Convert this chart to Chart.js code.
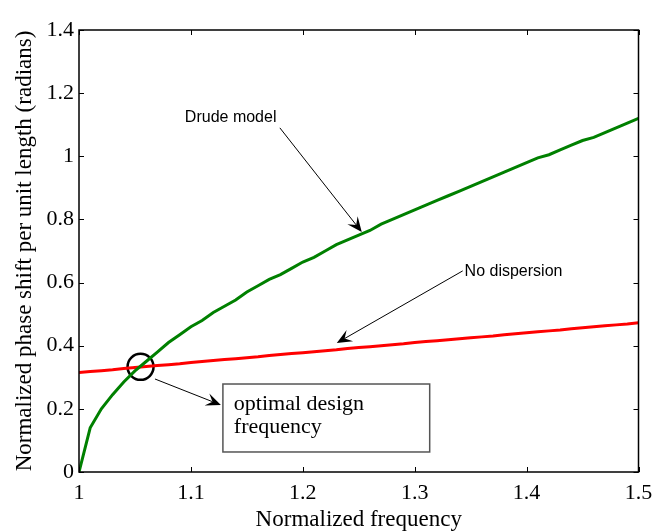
<!DOCTYPE html>
<html>
<head>
<meta charset="utf-8">
<script src="https://cdn.jsdelivr.net/npm/chart.js@4"></script>
<style>
  html, body { margin: 0; padding: 0; background: #fff; }
  #wrap { width: 654px; height: 531px; }
</style>
</head>
<body>
<div id="wrap"><canvas id="phaseChart" width="654" height="531"></canvas></div>
<script>
// normalized frequency samples
const freq = [1.00, 1.01, 1.02, 1.03, 1.04, 1.05, 1.06, 1.07, 1.08, 1.09,
  1.10, 1.11, 1.12, 1.13, 1.14, 1.15, 1.16, 1.17, 1.18, 1.19,
  1.20, 1.21, 1.22, 1.23, 1.24, 1.25, 1.26, 1.27, 1.28, 1.29,
  1.30, 1.31, 1.32, 1.33, 1.34, 1.35, 1.36, 1.37, 1.38, 1.39,
  1.40, 1.41, 1.42, 1.43, 1.44, 1.45, 1.46, 1.47, 1.48, 1.49, 1.50];

const drude = [0, 0.14, 0.20, 0.245, 0.285, 0.32, 0.35, 0.38, 0.41, 0.435,
  0.46, 0.48, 0.505, 0.525, 0.545, 0.57, 0.59, 0.61, 0.625, 0.645,
  0.665, 0.68, 0.70, 0.72, 0.735, 0.75, 0.765, 0.785, 0.80, 0.815,
  0.83, 0.845, 0.86, 0.875, 0.89, 0.905, 0.92, 0.935, 0.95, 0.965,
  0.98, 0.995, 1.005, 1.02, 1.035, 1.05, 1.06, 1.075, 1.09, 1.105, 1.12];

const noDispersion = [0.315, 0.318, 0.321, 0.324, 0.328, 0.331, 0.334, 0.337, 0.340, 0.343,
  0.347, 0.350, 0.353, 0.356, 0.359, 0.362, 0.365, 0.369, 0.372, 0.375,
  0.378, 0.381, 0.384, 0.387, 0.391, 0.394, 0.397, 0.400, 0.403, 0.406,
  0.410, 0.413, 0.416, 0.419, 0.422, 0.425, 0.428, 0.431, 0.435, 0.438,
  0.441, 0.444, 0.447, 0.450, 0.454, 0.457, 0.460, 0.463, 0.466, 0.469, 0.473];

// crossing point marked with a circle
const optimalPoint = [{ x: 1.055, y: 0.333 }];

const xTicks = [1, 1.1, 1.2, 1.3, 1.4, 1.5];
const yTicks = [0, 0.2, 0.4, 0.6, 0.8, 1, 1.2, 1.4];

const SERIF = '"Liberation Serif", "Times New Roman", serif';
const SANS = '"Liberation Sans", Arial, sans-serif';

function toPoints(xs, ys) {
  return xs.map((x, i) => ({ x: x, y: ys[i] }));
}

function fmt(v) {
  return String(Math.round(v * 100) / 100);
}

function arrow(ctx, x1, y1, x2, y2) {
  const ang = Math.atan2(y2 - y1, x2 - x1);
  const len = 15, half = 6.5, notch = 9;
  const c = Math.cos(ang), s = Math.sin(ang);
  ctx.beginPath();
  ctx.moveTo(x1, y1);
  ctx.lineTo(x2 - c * notch, y2 - s * notch);
  ctx.stroke();
  ctx.beginPath();
  ctx.moveTo(x2, y2);
  ctx.lineTo(x2 - c * len - s * half, y2 - s * len + c * half);
  ctx.lineTo(x2 - c * notch, y2 - s * notch);
  ctx.lineTo(x2 - c * len + s * half, y2 - s * len - c * half);
  ctx.closePath();
  ctx.fill();
}

const framePlugin = {
  id: 'frame',
  afterDatasetsDraw(chart) {
    const { ctx, chartArea: a, scales } = chart;
    const sx = scales.x, sy = scales.y;
    const px = v => sx.getPixelForValue(v);
    const py = v => sy.getPixelForValue(v);
    ctx.save();

    // box and inward ticks
    ctx.strokeStyle = '#000';
    ctx.lineWidth = 1.5;
    ctx.strokeRect(a.left, a.top, a.right - a.left, a.bottom - a.top);
    ctx.lineWidth = 1;
    ctx.beginPath();
    xTicks.forEach(v => {
      const x = Math.round(px(v)) + 0.5;
      ctx.moveTo(x, a.bottom); ctx.lineTo(x, a.bottom - 5);
      ctx.moveTo(x, a.top); ctx.lineTo(x, a.top + 5);
    });
    yTicks.forEach(v => {
      const y = Math.round(py(v)) + 0.5;
      ctx.moveTo(a.left, y); ctx.lineTo(a.left + 5, y);
      ctx.moveTo(a.right, y); ctx.lineTo(a.right - 5, y);
    });
    ctx.stroke();

    // annotations
    ctx.fillStyle = '#000';
    ctx.strokeStyle = '#000';
    ctx.lineWidth = 1;
    ctx.font = '16px ' + SANS;
    ctx.textBaseline = 'middle';
    ctx.fillText('Drude model', px(1.0946), py(1.121));
    ctx.fillText('No dispersion', px(1.3446), py(0.6335));
    arrow(ctx, px(1.1795), py(1.090), px(1.2527), py(0.760));
    arrow(ctx, px(1.3429), py(0.637), px(1.2304), py(0.4086));
    arrow(ctx, px(1.0679), py(0.2946), px(1.1268), py(0.2122));

    // text box
    const bx = px(1.1286), by = py(0.2787);
    const bw = px(1.3134) - bx, bh = py(0.0634) - by;
    ctx.strokeStyle = '#555';
    ctx.lineWidth = 1.5;
    ctx.strokeRect(bx, by, bw, bh);
    ctx.font = '22px ' + SERIF;
    ctx.textBaseline = 'alphabetic';
    ctx.fillText('optimal design', px(1.1384), py(0.196));
    ctx.fillText('frequency', px(1.1384), py(0.1235));
    ctx.restore();
  }
};

new Chart(document.getElementById('phaseChart'), {
  type: 'line',
  data: {
    datasets: [
      {
        label: 'Drude model',
        data: toPoints(freq, drude),
        borderColor: '#008000',
        borderWidth: 3,
        pointRadius: 0,
        tension: 0,
        fill: false
      },
      {
        label: 'No dispersion',
        data: toPoints(freq, noDispersion),
        borderColor: '#ff0000',
        borderWidth: 3,
        pointRadius: 0,
        tension: 0,
        fill: false
      },
      {
        label: 'optimal design frequency',
        type: 'scatter',
        data: optimalPoint,
        showLine: false,
        pointStyle: 'circle',
        pointRadius: 13,
        pointBorderWidth: 2.5,
        pointBorderColor: '#000',
        pointBackgroundColor: 'rgba(0,0,0,0)'
      }
    ]
  },
  options: {
    responsive: false,
    animation: false,
    events: [],
    layout: { padding: { left: 0, right: 15, top: 30, bottom: 0 } },
    plugins: { legend: { display: false }, tooltip: { enabled: false } },
    scales: {
      x: {
        type: 'linear',
        min: 1,
        max: 1.5,
        grid: { display: false, drawTicks: false },
        border: { display: false },
        ticks: {
          stepSize: 0.1,
          padding: 8,
          color: '#000',
          maxRotation: 0,
          font: { family: SERIF, size: 22 },
          callback: v => fmt(v)
        },
        title: {
          display: true,
          text: 'Normalized frequency',
          color: '#000',
          font: { family: SERIF, size: 23, lineHeight: 1 },
          padding: 0
        },
        afterFit: s => { s.height = 59; s.paddingLeft = 0; s.paddingRight = 0; }
      },
      y: {
        min: 0,
        max: 1.4,
        grid: { display: false, drawTicks: false },
        border: { display: false },
        ticks: {
          stepSize: 0.2,
          padding: 5,
          color: '#000',
          font: { family: SERIF, size: 22 },
          callback: v => fmt(v)
        },
        title: {
          display: true,
          text: 'Normalized phase shift per unit length (radians)',
          color: '#000',
          font: { family: SERIF, size: 23, lineHeight: 1 },
          padding: { top: 13, bottom: 0 }
        },
        afterFit: s => { s.width = 79; s.paddingTop = 0; s.paddingBottom = 0; }
      }
    }
  },
  plugins: [framePlugin]
});
</script>
</body>
</html>
